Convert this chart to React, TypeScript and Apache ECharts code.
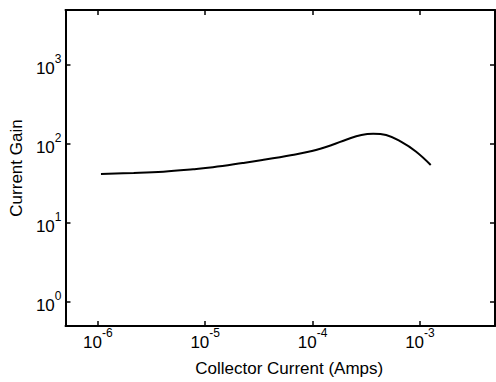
import React, { useEffect, useRef } from "react";
import * as echarts from "echarts";

const collectorCurrent = [1.07e-6, 2.16e-6, 4.08e-6, 7.72e-6, 1.18e-5, 2.23e-5, 3.41e-5, 6.45e-5, 9.86e-5, 1.51e-4, 2.08e-4, 2.85e-4, 3.67e-4, 4.84e-4, 6.65e-4, 9.16e-4, 1.26e-3];
const currentGain = [42.0, 43.2, 44.9, 48.2, 51.1, 57.8, 63.1, 73.1, 82.1, 97.7, 114.8, 130.9, 135.9, 130.9, 107.6, 80.9, 54.6];
const xRange = [5e-7, 5e-3];
const yRange = [0.5, 5000];
const xTitle = "Collector Current (Amps)";
const yTitle = "Current Gain";

const FONT = "Liberation Sans, Arial, sans-serif";

function powLabel(v: number) {
  const l = Math.log10(v);
  const r = Math.round(l);
  if (Math.abs(l - r) > 1e-6) return "";
  return `{b|10}{e|${r}}`;
}

const rich = {
  b: { fontSize: 17, fontFamily: FONT, color: "#000", lineHeight: 24, verticalAlign: "bottom" },
  e: { fontSize: 12, fontFamily: FONT, color: "#000", lineHeight: 12, verticalAlign: "top" },
};

export default function App() {
  const ref = useRef<HTMLDivElement>(null);
  useEffect(() => {
    if (!ref.current) return;
    const chart = echarts.init(ref.current, undefined, { renderer: "svg" });
    const axisLine = { show: true, onZero: false, lineStyle: { color: "#000", width: 2 } };
    const axisTick = { show: true, inside: true, length: 5, lineStyle: { color: "#000", width: 1.5 } };
    chart.setOption({
      animation: false,
      backgroundColor: "#fff",
      grid: { left: 61, right: 1, top: 10, bottom: 56, containLabel: false },
      xAxis: [
        {
          type: "log",
          logBase: 10,
          min: xRange[0],
          max: xRange[1],
          position: "bottom",
          axisLine,
          axisTick,
          minorTick: { show: false },
          splitLine: { show: false },
          axisLabel: { formatter: powLabel, rich, margin: 1, showMinLabel: false, showMaxLabel: false },
          name: xTitle,
          nameLocation: "middle",
          nameGap: 34,
          nameTextStyle: { fontSize: 17, fontFamily: FONT, color: "#000", padding: [0, 0, 0, 18] },
        },
        {
          type: "log",
          logBase: 10,
          min: xRange[0],
          max: xRange[1],
          position: "top",
          axisLine,
          axisTick,
          minorTick: { show: false },
          splitLine: { show: false },
          axisLabel: { show: false },
        },
      ],
      yAxis: [
        {
          type: "log",
          logBase: 10,
          min: yRange[0],
          max: yRange[1],
          position: "left",
          axisLine,
          axisTick,
          minorTick: { show: false },
          splitLine: { show: false },
          axisLabel: { formatter: powLabel, rich, margin: 4, showMinLabel: false, showMaxLabel: false },
          name: yTitle,
          nameLocation: "middle",
          nameGap: 40,
          nameRotate: 90,
          nameTextStyle: { fontSize: 17, fontFamily: FONT, color: "#000" },
        },
        {
          type: "log",
          logBase: 10,
          min: yRange[0],
          max: yRange[1],
          position: "right",
          axisLine,
          axisTick,
          minorTick: { show: false },
          splitLine: { show: false },
          axisLabel: { show: false },
        },
      ],
      series: [
        {
          type: "line",
          xAxisIndex: 0,
          yAxisIndex: 0,
          data: collectorCurrent.map((x, i) => [x, currentGain[i]]),
          smooth: 0.4,
          showSymbol: false,
          lineStyle: { color: "#000", width: 2 },
        },
      ],
    });
    return () => chart.dispose();
  }, []);
  return (
    <div
      ref={ref}
      style={{ position: "fixed", left: 0, top: 0, width: 496, height: 382, background: "#fff" }}
    />
  );
}
